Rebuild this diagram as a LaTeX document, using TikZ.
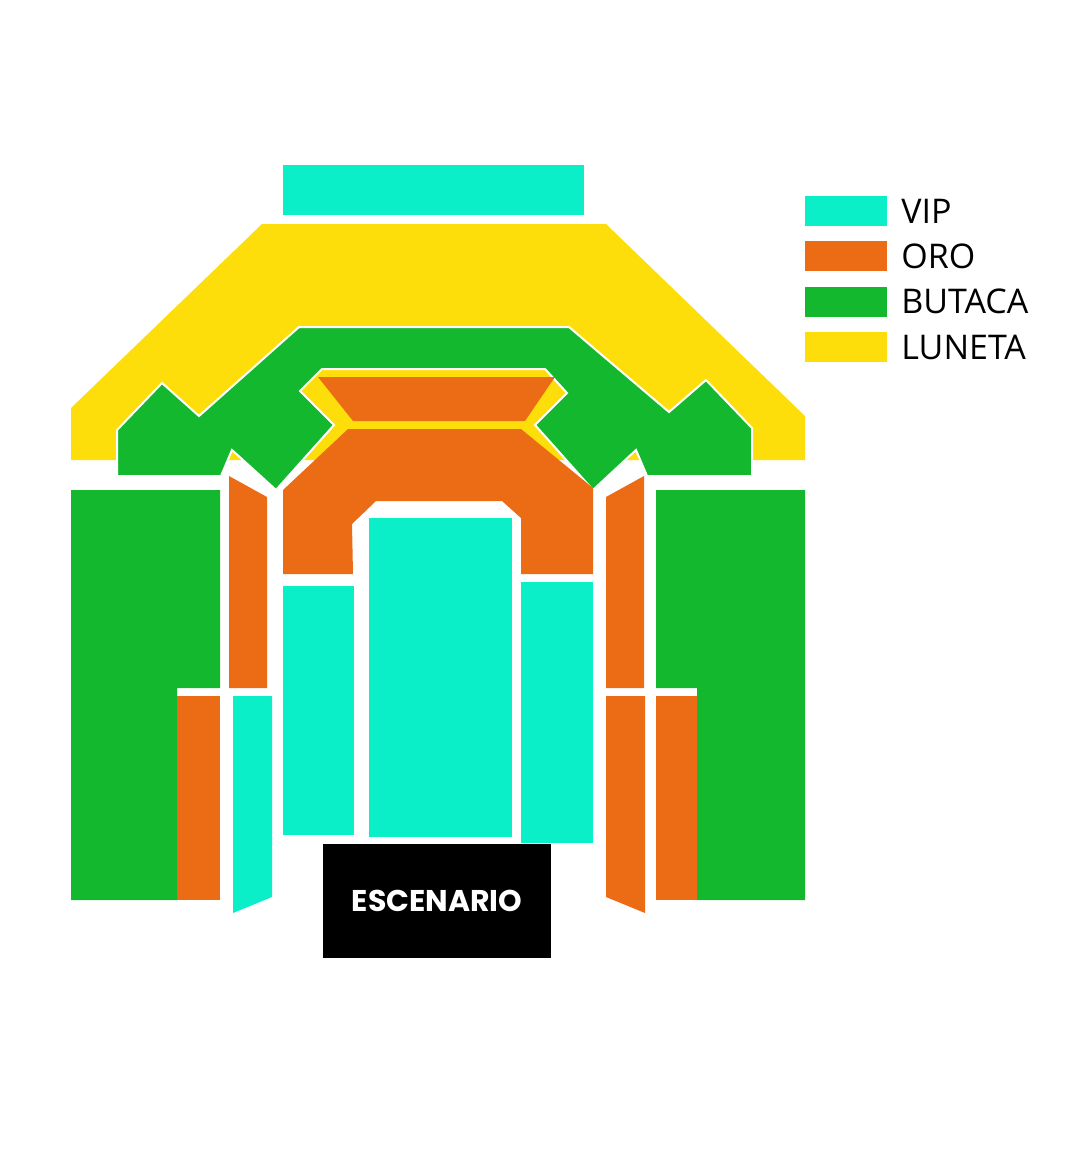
\documentclass[tikz,border=0pt]{standalone}
\usepackage{fontspec}
\setmainfont{Open Sans}
\newfontfamily\stagefont{Poppins}
\usetikzlibrary{positioning}
\definecolor{vip}{HTML}{0AEFC8}
\definecolor{oro}{HTML}{EC6B15}
\definecolor{butaca}{HTML}{14B82E}
\definecolor{luneta}{HTML}{FDDE0A}
\tikzset{zone/.style={draw=white,line width=2pt,line join=miter}}
\tikzset{key/.style={minimum width=82pt,minimum height=30pt,inner sep=0pt}}
\tikzset{keytext/.style={right=14pt,font=\fontsize{34}{34}\selectfont,inner sep=0pt}}
\begin{document}
\begin{tikzpicture}[x=1pt,y=-1pt]
    \useasboundingbox (0,0) rectangle (1080,1176);
    % Top and luneta
    \fill[vip] (283,165) rectangle (584,215);
    \fill[luneta] (71,408) -- (262,224) -- (606,224) -- (805,416) -- (805,460) -- (71,460) -- cycle;
    % Butaca ring
    \path[zone,fill=butaca] (117,430) -- (162,383) -- (199,416) -- (299,327) -- (569,327)
        -- (669,412) -- (706,380) -- (752,428) -- (752,476) -- (647,476) -- (636,450)
        -- (593,490) -- (535,425) -- (567,393) -- (545,369) -- (322,369) -- (300,391)
        -- (334,425) -- (276,490) -- (232,450) -- (221,476) -- (117,476) -- cycle;
    % Oro centre
    \fill[oro] (318,377) -- (555,377) -- (525,421) -- (353,421) -- cycle;
    \fill[oro] (283,490) -- (348,429) -- (521,429) -- (593,488) -- (593,574) -- (521,574)
        -- (521,518) -- (502,501) -- (376,501) -- (352,524) -- (353,574) -- (283,574) -- cycle;
    % VIP floor
    \fill[vip] (369,518) rectangle (512,837);
    \fill[vip] (283,586) rectangle (354,835);
    \fill[vip] (521,582) rectangle (593,843);
    % Left side
    \fill[oro] (229,476) -- (267,497) -- (267,688) -- (229,688) -- cycle;
    \fill[butaca] (71,490) -- (220,490) -- (220,688) -- (177,688) -- (177,900) -- (71,900) -- cycle;
    \fill[oro] (177,696) rectangle (220,900);
    \fill[vip] (233,696) -- (272,696) -- (272,897) -- (233,913) -- cycle;
    % Right side
    \fill[oro] (606,497) -- (644,476) -- (644,688) -- (606,688) -- cycle;
    \fill[butaca] (656,490) -- (805,490) -- (805,900) -- (697,900) -- (697,688) -- (656,688) -- cycle;
    \fill[oro] (656,696) rectangle (697,900);
    \fill[oro] (606,696) -- (645,696) -- (645,913) -- (606,897) -- cycle;
    % Stage
    \node[fill=black,minimum width=228pt,minimum height=114pt,inner sep=0pt,
          text=white,font=\stagefont\bfseries\fontsize{30}{30}\selectfont] (stage) at (437,901) {ESCENARIO};
    % Legend
    \node[key,fill=vip] (kvip) at (846,211) {};
    \node[key,fill=oro,below=15pt of kvip] (koro) {};
    \node[key,fill=butaca,below=15pt of koro] (kbut) {};
    \node[key,fill=luneta,below=15pt of kbut] (klun) {};
    \node[keytext] at (kvip.east) {VIP};
    \node[keytext] at (koro.east) {ORO};
    \node[keytext] at (kbut.east) {BUTACA};
    \node[keytext] at (klun.east) {LUNETA};
\end{tikzpicture}
\end{document}
